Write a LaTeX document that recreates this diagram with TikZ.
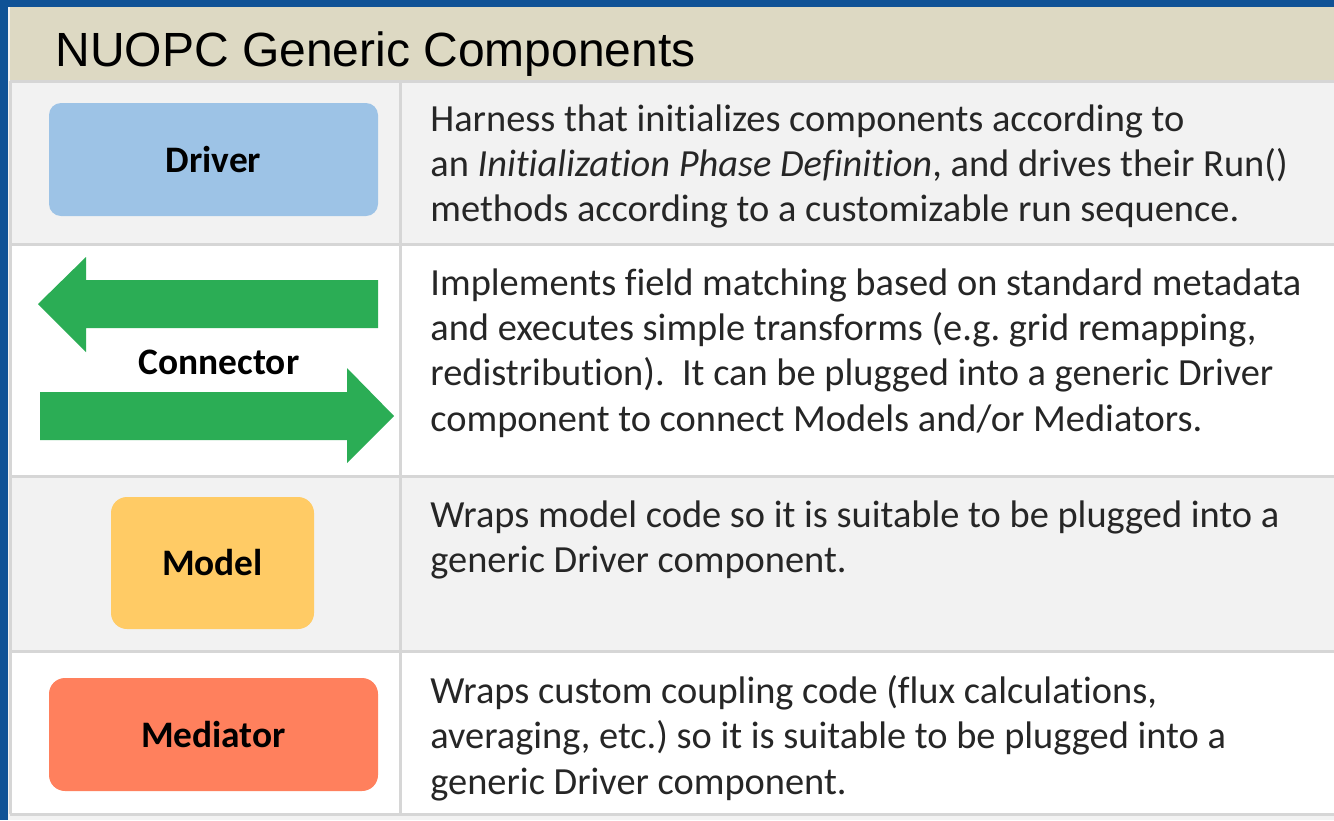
\documentclass[tikz,border=0pt]{standalone}
\usepackage{fontspec}
\setmainfont[Ligatures=NoCommon]{Carlito}
\newfontfamily\titlefont{Liberation Sans}
\usepackage[dvipsnames]{xcolor}
\frenchspacing

\definecolor{frameblue}{HTML}{0F5296}
\definecolor{headbeige}{HTML}{DDD9C3}
\definecolor{rowgray}{HTML}{F2F2F2}
\definecolor{rulegray}{HTML}{D6D6D6}
\definecolor{driverblue}{HTML}{9DC3E6}
\definecolor{modelyellow}{HTML}{FFCB65}
\definecolor{mediatorred}{HTML}{FF805D}
\definecolor{connectgreen}{HTML}{2BAD55}
\definecolor{textgray}{HTML}{262626}

\begin{document}
\begin{tikzpicture}[x=0.5pt, y=-0.5pt,
    compbox/.style={rounded corners=6pt, inner sep=0pt, font=\fontsize{18.7}{20}\selectfont\bfseries},
    desc/.style={anchor=north west, inner sep=0pt, align=left, text=textgray, font=\fontsize{19.2}{22.7}\selectfont},
    rowrule/.style={rulegray, line width=1.5pt}]
    \useasboundingbox (0,0) rectangle (1334,820);
    % Frame and row backgrounds
    \fill[rowgray] (0,0) rectangle (1334,820);
    \fill[headbeige] (10,7) rectangle (1334,81);
    \fill[rowgray] (10,81) rectangle (1334,244);
    \fill[white] (10,244) rectangle (1334,476);
    \fill[rowgray] (10,476) rectangle (1334,651);
    \fill[white] (10,651) rectangle (1334,814);
    \fill[frameblue] (0,0) rectangle (1334,7);
    \fill[frameblue] (0,0) rectangle (8,820);
    \foreach \y in {81,244,476,651,814}
        \draw[rowrule] (10,\y) -- (1334,\y);
    \draw[rowrule] (400,81) -- (400,814);
    \draw[rowrule] (10,81) -- (10,814);
    \node[anchor=base west, inner sep=0pt, font=\fontsize{24}{28}\selectfont\titlefont] (title) at (55,66) {NUOPC Generic Components};

    % Driver
    \node[compbox, fill=driverblue, minimum width=164.5pt, minimum height=56.5pt] (driver) at (213.5,159.5) {Driver};
    \node[desc] (driverdesc) at (430,104) {Harness that initializes components according to\\
        an \textit{Initialization Phase Definition}, and drives their Run()\\
        methods according to a customizable run sequence.};

    % Connector: two opposite green arrows
    \fill[connectgreen] (378,280) -- (86,280) -- (86,257) -- (38,304) -- (86,352) -- (86,328) -- (378,328) -- cycle;
    \fill[connectgreen] (40,392) -- (347,392) -- (347,368) -- (394,416) -- (347,463) -- (347,440) -- (40,440) -- cycle;
    \node[compbox] (connector) at (219,362) {Connector};
    \node[desc] (connectordesc) at (430,268) {Implements field matching based on standard metadata\\
        and executes simple transforms (e.g. grid remapping,\\
        redistribution).\ \ It can be plugged into a generic Driver\\
        component to connect Models and/or Mediators.};

    % Model
    \node[compbox, rounded corners=8pt, fill=modelyellow, minimum width=101.5pt, minimum height=66pt] (model) at (212.5,563) {Model};
    \node[desc] (modeldesc) at (430,500) {Wraps model code so it is suitable to be plugged into a\\
        generic Driver component.};

    % Mediator
    \node[compbox, rounded corners=8pt, fill=mediatorred, minimum width=164.5pt, minimum height=56.5pt] (mediator) at (213.5,734.5) {Mediator};
    \node[desc] (mediatordesc) at (430,675) {Wraps custom coupling code (flux calculations,\\
        averaging, etc.) so it is suitable to be plugged into a\\
        generic Driver component.};
\end{tikzpicture}
\end{document}
